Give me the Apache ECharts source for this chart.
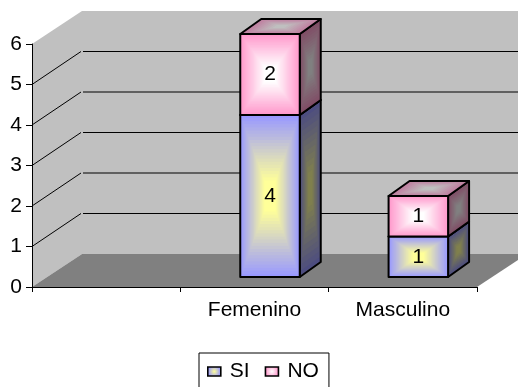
<!DOCTYPE html>
<html><head><meta charset="utf-8">
<style>html,body{margin:0;padding:0;background:#fff}#c{width:518px;height:387px}</style>
<script src="https://cdn.jsdelivr.net/npm/echarts@6/dist/echarts.min.js"></script>
</head><body><div id="c"></div>
<script>
const categories = ['', 'Femenino', 'Masculino'];
const si = [null, 4, 1];
const no = [null, 2, 1];
const levels = [1, 2, 3, 4, 5];
const yMax = 6;

const FONT = '"Liberation Sans", Arial, sans-serif';
const WALL = {dx: 50, dy: -33};
const BAR = {dx: 15.5, dy: -10, w: 59.5, depthX: 21, depthY: -15};
const palette = {
  SI: {front: ['#9999FF', '#FFFF99'], side: ['#4D4D80', '#80804D'], top: ['#4D4D80', '#80804D']},
  NO: {front: ['#FF99CC', '#FFFFFF'], side: ['#804D66', '#808080'], top: ['#BF7FA0', '#BFBFBF']}
};
function hex(c){return [1,3,5].map(i=>parseInt(c.substr(i,2),16));}
function mix(a,b,t){const A=hex(a),B=hex(b);return 'rgb('+A.map((v,i)=>Math.round(v+(B[i]-v)*t)).join(',')+')';}
function face(pts, cols, steps){
  const cx=pts.reduce((s,p)=>s+p[0],0)/pts.length, cy=pts.reduce((s,p)=>s+p[1],0)/pts.length;
  const out=[];
  for(let i=0;i<steps;i++){
    const s=1-i/steps;
    const t=Math.min(1,(1-s)/0.8);
    out.push({type:'polygon',shape:{points:pts.map(p=>[cx+(p[0]-cx)*s,cy+(p[1]-cy)*s])},
      style:{fill:mix(cols[0],cols[1],t)},silent:true});
  }
  out.push({type:'polygon',shape:{points:pts},style:{fill:'none',stroke:'#000',lineWidth:2,lineJoin:'round'},silent:true});
  return out;
}
function barItem(name){
  return function(params, api){
    const cat=api.value(0), lo=api.value(1), hi=api.value(2);
    const a=api.coord([cat,lo]), b=api.coord([cat,hi]);
    const x0=a[0]+BAR.dx-BAR.w/2, x1=x0+BAR.w, y0=a[1]+BAR.dy, y1=b[1]+BAR.dy;
    const dx=BAR.depthX, dy=BAR.depthY, c=palette[name];
    const children=[]
      .concat(face([[x1,y1],[x1+dx,y1+dy],[x1+dx,y0+dy],[x1,y0]],c.side,14))
      .concat(face([[x0,y1],[x0+dx,y1+dy],[x1+dx,y1+dy],[x1,y1]],c.top,10))
      .concat(face([[x0,y1],[x1,y1],[x1,y0],[x0,y0]],c.front,26));
    children.push({type:'text',style:{text:String(hi-lo),x:(x0+x1)/2,y:(y0+y1)/2,align:'center',verticalAlign:'middle',
      font:'21px '+FONT,fill:'#000'},silent:true});
    return {type:'group',children};
  };
}
function rows(vals, base){
  return vals.map((v,i)=>v==null?null:[i,base?base[i]:0,(base?base[i]:0)+v]).filter(Boolean);
}
function iconFill(c){return {type:'radial',x:0.5,y:0.5,r:0.6,colorStops:[{offset:0,color:c[1]},{offset:1,color:c[0]}]};}
const chart=echarts.init(document.getElementById('c'),null,{renderer:'canvas'});
chart.setOption({
  animation:false,
  backgroundColor:'#fff',
  grid:{left:32,right:41,top:44,bottom:100,containLabel:false},
  legend:{
    show:true,left:199,top:353,itemWidth:13,itemHeight:9,itemGap:15,
    padding:[8,10,30,8],borderColor:'#000',borderWidth:1,
    textStyle:{fontFamily:FONT,fontSize:21,color:'#000',padding:[0,0,5,4]},
    data:[
      {name:'SI',icon:'rect',itemStyle:{color:iconFill(palette.SI.front),borderColor:'#000',borderWidth:1.6}},
      {name:'NO',icon:'rect',itemStyle:{color:iconFill(palette.NO.front),borderColor:'#000',borderWidth:1.6}}
    ]
  },
  xAxis:{type:'category',data:categories,z:5,boundaryGap:true,
    axisLine:{lineStyle:{color:'#000',width:1}},
    axisTick:{show:true,length:5,alignWithLabel:false,lineStyle:{color:'#000'}},
    axisLabel:{fontFamily:FONT,fontSize:21,color:'#000',margin:13,interval:0},
    splitLine:{show:false}},
  yAxis:{type:'value',min:0,max:yMax,interval:1,z:5,
    axisLine:{show:true,lineStyle:{color:'#000',width:1}},
    axisTick:{show:true,length:6,lineStyle:{color:'#000'}},
    axisLabel:{fontFamily:FONT,fontSize:21,color:'#000',margin:10},
    splitLine:{show:false}},
  series:[
    {type:'custom',name:'wall',z:1,silent:true,data:[[0,0,yMax]],encode:{x:0,y:[1,2]},
      renderItem(p,api){
        const lo=api.coord([0,0]), hi=api.coord([0,yMax]);
        const L=p.coordSys.x, R=p.coordSys.x+p.coordSys.width, E=api.getWidth();
        const d=WALL, slope=d.dy/d.dx;
        return {type:'group',children:[
          {type:'polygon',shape:{points:[[L,lo[1]],[L,hi[1]],[L+d.dx,hi[1]+d.dy],[E,hi[1]+d.dy],[E,lo[1]+d.dy],[L+d.dx,lo[1]+d.dy]]},style:{fill:'#C0C0C0'}},
          {type:'polygon',shape:{points:[[L,lo[1]],[L+d.dx,lo[1]+d.dy],[E,lo[1]+d.dy],[E,lo[1]+slope*(E-R)],[R,lo[1]]]},style:{fill:'#808080'}}
        ]};
      }},
    {type:'custom',name:'grid',z:2,silent:true,data:levels.map(v=>[0,v]),encode:{x:0,y:1},
      renderItem(p,api){
        const y=api.coord([0,api.value(1)])[1], L=p.coordSys.x, E=api.getWidth();
        const st={fill:'none',stroke:'#000',lineWidth:1};
        return {type:'group',children:[
          {type:'polyline',shape:{points:[[L,y],[L+WALL.dx-1,y+WALL.dy]]},style:st},
          {type:'polyline',shape:{points:[[L+WALL.dx+1,y+WALL.dy],[E,y+WALL.dy]]},style:st}
        ]};
      }},
    {type:'custom',name:'SI',z:3,data:rows(si),encode:{x:0,y:[1,2]},renderItem:barItem('SI'),itemStyle:{color:'#C8CCD0'}},
    {type:'custom',name:'NO',z:3,data:rows(no,si),encode:{x:0,y:[1,2]},renderItem:barItem('NO'),itemStyle:{color:'#FFCCE6'}}
  ]
});
</script></body></html>
